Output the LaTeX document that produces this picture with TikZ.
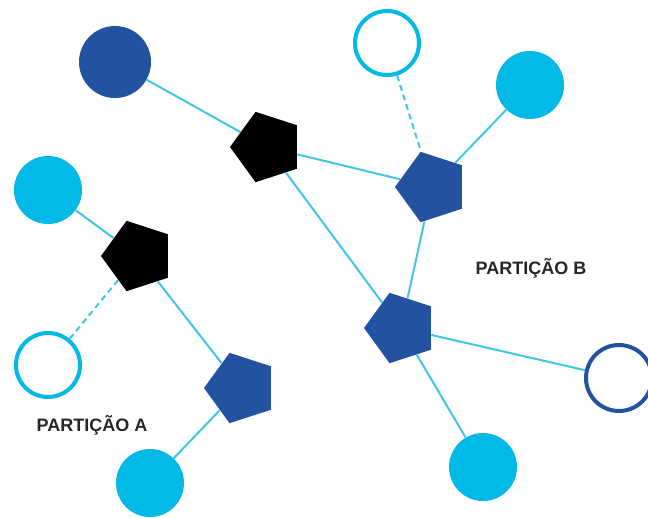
\documentclass[tikz,border=0pt]{standalone}
\usepackage{fontspec}
\setmainfont{Liberation Sans}
\usepackage{tikz}
\usetikzlibrary{shapes.geometric}
\usetikzlibrary{positioning}

\definecolor{darkblue}{HTML}{2352A0}
\definecolor{lightblue}{HTML}{00B9E6}
\definecolor{linkblue}{HTML}{40C6E4}

\begin{document}
\begin{tikzpicture}[x=1pt,y=-1pt,thick,
	full node/.style={circle,fill=lightblue,minimum size=68pt,inner sep=0pt},
	dark node/.style={circle,fill=darkblue,minimum size=72pt,inner sep=0pt},
	open node/.style={circle,draw=lightblue,line width=4pt,fill=white,minimum size=64pt,inner sep=0pt},
	ring node/.style={circle,draw=darkblue,line width=4pt,fill=white,minimum size=66pt,inner sep=0pt},
	pent node/.style={regular polygon,regular polygon sides=5,shape border rotate=90,
		minimum size=74pt,inner sep=0pt},
	label text/.style={font=\bfseries\fontsize{18}{20}\selectfont,text=black!85}]
	\useasboundingbox (0,0) rectangle (648,517);
	
	\node[dark node] (d1) at (115,62) {};
	\node[open node] (o1) at (387,43) {};
	\node[full node] (f1) at (530,85) {};
	\node[full node] (f2) at (48,190) {};
	\node[open node] (o2) at (48,365) {};
	\node[ring node] (r1) at (619,378) {};
	\node[full node] (f3) at (150,483) {};
	\node[full node] (f4) at (483,467) {};
	
	\node[pent node,fill=black] (k1) at (267,147) {};
	\node[pent node,fill=black] (k2) at (138,256) {};
	\node[pent node,fill=darkblue] (b1) at (432,187) {};
	\node[pent node,fill=darkblue] (b2) at (401,328) {};
	\node[pent node,fill=darkblue] (b3) at (241,388) {};
	
	\node[label text] (pb) at (531,268) {PARTIÇÃO B};
	\node[label text] (pa) at (92,425) {PARTIÇÃO A};
	
	\path[draw=linkblue,line width=2pt]
	(d1) edge (k1)
	(k1) edge (b1)
	(k1) edge (b2)
	(o1) edge [dash pattern=on 6pt off 4pt] (b1)
	(f1) edge (b1)
	(b1) edge (b2)
	(f2) edge (k2)
	(k2) edge [dash pattern=on 6pt off 4pt] (o2)
	(k2) edge (b3)
	(b3) edge (f3)
	(b2) edge (r1)
	(b2) edge (f4);
\end{tikzpicture}
\end{document}
